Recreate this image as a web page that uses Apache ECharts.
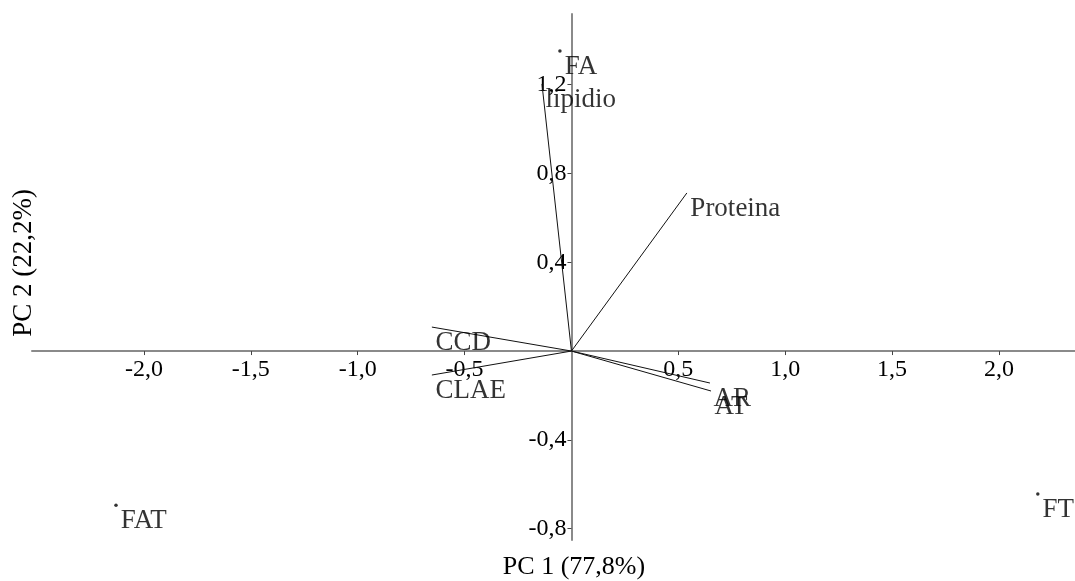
<!DOCTYPE html>
<html><head><meta charset="utf-8">
<script src="https://cdn.jsdelivr.net/npm/echarts@6/dist/echarts.min.js"></script>
<style>html,body{margin:0;padding:0;background:#fff}#c{width:1075px;height:581px}</style>
</head><body><div id="c"></div>
<script>
// Scores (samples)
const scoreNames = ['FA', 'FAT', 'FT'];
const scoreX = [-0.054, -2.131, 2.182];
const scoreY = [1.351, -0.694, -0.644];
// Loadings (variables)
const loadNames = ['lipidio', 'Proteina', 'CCD', 'CLAE', 'AR', 'AT'];
const loadX = [-0.138, 0.54, -0.653, -0.653, 0.648, 0.653];
const loadY = [1.203, 0.712, 0.108, -0.108, -0.144, -0.18];
// Ticks
const xTicks = [-2, -1.5, -1, -0.5, 0.5, 1, 1.5, 2];
const yTicks = [-0.8, -0.4, 0.4, 0.8, 1.2];
const xTitle = 'PC 1 (77,8%)';
const yTitle = 'PC 2 (22,2%)';

const X_MIN = -2.524, X_MAX = 2.356, Y_MIN = -0.851, Y_MAX = 1.518;

const FONT = 'Liberation Serif';
const fmt = v => Number(v).toFixed(1).replace('.', ',');
const labelStyle = { color: '#000', fontFamily: FONT, fontSize: 27 };

const W = 1075, H = 581;
const G = { left: 32, right: 0, top: 14, bottom: 41 };
const gridW = W - G.left - G.right, gridH = H - G.top - G.bottom;
// place axes through the origin (offset from grid edges, derived from the scale)
const xAxisOffset = -((0 - Y_MIN) / (Y_MAX - Y_MIN)) * gridH;
const yAxisOffset = -((0 - X_MIN) / (X_MAX - X_MIN)) * gridW;

const chart = echarts.init(document.getElementById('c'));

const series = [];
loadNames.forEach((n, i) => {
  series.push({
    type: 'line',
    silent: true,
    lineStyle: { color: '#111', width: 1 },
    symbol: 'none',
    data: [[0, 0], [loadX[i], loadY[i]]],
    z: 3
  });
});
series.push({
  type: 'scatter',
  silent: true,
  symbolSize: 1,
  itemStyle: { color: 'rgba(0,0,0,0)' },
  data: loadNames.map((n, i) => ({ name: n, value: [loadX[i], loadY[i]] })),
  label: Object.assign({ show: true, formatter: p => p.name, position: 'right', distance: 3, offset: [0, 16] }, labelStyle),
  z: 4
});
series.push({
  type: 'scatter',
  silent: true,
  symbolSize: 3.5,
  itemStyle: { color: '#000' },
  data: scoreNames.map((n, i) => ({ name: n, value: [scoreX[i], scoreY[i]] })),
  label: Object.assign({ show: true, formatter: p => p.name, position: 'right', distance: 3, offset: [0, 16] }, labelStyle),
  z: 4
});

chart.setOption({
  animation: false,
  backgroundColor: '#fff',
  grid: Object.assign({ outerBoundsMode: 'none', containLabel: false }, G),
  xAxis: {
    type: 'value', min: X_MIN, max: X_MAX, offset: xAxisOffset,
    axisLine: { onZero: false, lineStyle: { color: '#8a8a8a', width: 2 } },
    axisTick: { show: true, length: 4, customValues: xTicks, lineStyle: { color: '#444', width: 1 } },
    axisLabel: { customValues: xTicks, formatter: fmt, margin: 7, color: '#000', fontFamily: FONT, fontSize: 24 },
    splitLine: { show: false }
  },
  yAxis: {
    type: 'value', min: Y_MIN, max: Y_MAX, offset: yAxisOffset,
    axisLine: { onZero: false, lineStyle: { color: '#8a8a8a', width: 2 } },
    axisTick: { show: true, length: 4, customValues: yTicks, lineStyle: { color: '#444', width: 1 } },
    axisLabel: { customValues: yTicks, formatter: fmt, margin: 5, color: '#000', fontFamily: FONT, fontSize: 24 },
    splitLine: { show: false }
  },
  graphic: [
    { type: 'text', x: 574, y: 567, style: { text: xTitle, fill: '#000', font: '26px "Liberation Serif"', align: 'center', verticalAlign: 'middle' } },
    { type: 'text', x: 10, y: 263, rotation: Math.PI / 2, style: { text: yTitle, fill: '#000', font: '27px "Liberation Serif"', align: 'center', verticalAlign: 'top' } }
  ],
  series: series
});
</script></body></html>
